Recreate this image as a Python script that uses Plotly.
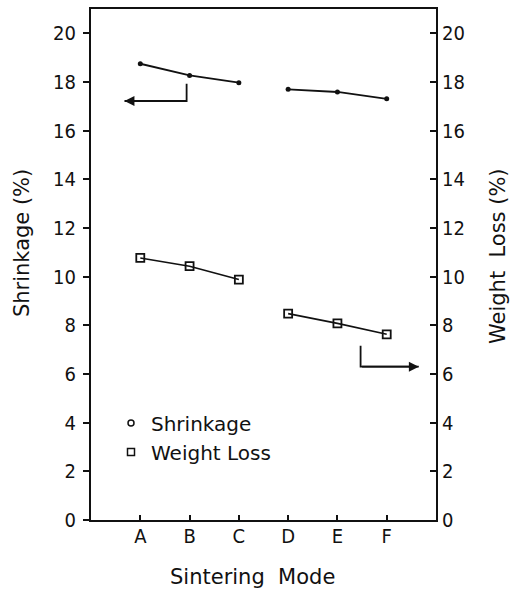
import plotly.graph_objects as go

modes = ["A", "B", "C", "D", "E", "F"]
mode_pos = [1, 2, 3, 4, 5, 6]
shrinkage = [18.75, 18.27, 17.97, 17.70, 17.59, 17.31]
weight_loss = [10.77, 10.43, 9.88, 8.48, 8.08, 7.63]
y_ticks = [0, 2, 4, 6, 8, 10, 12, 14, 16, 18, 20]

# indicator "L" arrows (x, y) pointing to the relevant axis
left_arrow_x = [1.94, 1.94, 0.68]
left_arrow_y = [17.93, 17.22, 17.22]
right_arrow_x = [5.47, 5.47, 6.65]
right_arrow_y = [7.16, 6.30, 6.30]

TEXT_FONT = "DejaVu Sans, Noto Sans, sans-serif"
TICK_FONT = "DejaVu Sans Condensed, Liberation Sans Narrow, Arial Narrow, sans-serif"
BLACK = "#111111"

W, H = 515, 596
ML, MR, MT, MB = 91, 79, 7, 76

fig = go.Figure()

for grp in (slice(0, 3), slice(3, 6)):
    fig.add_trace(go.Scatter(
        x=mode_pos[grp], y=shrinkage[grp], mode="lines+markers",
        line=dict(color=BLACK, width=1.8),
        marker=dict(symbol="circle", size=5, color=BLACK),
        showlegend=False, yaxis="y"))
    fig.add_trace(go.Scatter(
        x=mode_pos[grp], y=weight_loss[grp], mode="lines+markers",
        line=dict(color=BLACK, width=1.6),
        marker=dict(symbol="square-open", size=8, color=BLACK, line=dict(width=1.8)),
        showlegend=False, yaxis="y2"))

# legend entries (markers only)
fig.add_trace(go.Scatter(x=[None], y=[None], mode="markers", name="Shrinkage",
                         marker=dict(symbol="circle-open", size=6, color=BLACK, line=dict(width=1.5))))
fig.add_trace(go.Scatter(x=[None], y=[None], mode="markers", name="Weight Loss",
                         marker=dict(symbol="square-open", size=7, color=BLACK, line=dict(width=1.5))))

# arrow polylines
fig.add_trace(go.Scatter(x=left_arrow_x, y=left_arrow_y, mode="lines",
                         line=dict(color=BLACK, width=1.8), showlegend=False, hoverinfo="skip"))
fig.add_trace(go.Scatter(x=right_arrow_x, y=right_arrow_y, mode="lines",
                         line=dict(color=BLACK, width=1.8), showlegend=False, hoverinfo="skip"))

for xs, ys in ((left_arrow_x, left_arrow_y), (right_arrow_x, right_arrow_y)):
    fig.add_annotation(x=xs[2], y=ys[2], ax=xs[1], ay=ys[1], xref="x", yref="y",
                       axref="x", ayref="y", showarrow=True, arrowhead=2,
                       arrowsize=1.1, arrowwidth=1.8, arrowcolor=BLACK, text="")

tickfont = dict(family=TICK_FONT, size=20, color=BLACK)
axis_common = dict(range=[0, 21], tickvals=y_ticks, showgrid=False, zeroline=False,
                   showline=True, linecolor=BLACK, linewidth=2, ticklen=6,
                   tickwidth=1.5, tickcolor=BLACK, tickfont=tickfont)

pw, ph = W - ML - MR, H - MT - MB


def px(x):
    return (x - ML) / pw


def py(y):
    return (H - MB - y) / ph


fig.update_layout(
    width=W, height=H,
    margin=dict(l=ML, r=MR, t=MT, b=MB),
    paper_bgcolor="white", plot_bgcolor="white",
    font=dict(family=TEXT_FONT, color=BLACK, size=20),
    xaxis=dict(range=[0, 7], tickvals=mode_pos, ticktext=modes, ticks="inside",
               ticklen=5, tickwidth=1.5, tickcolor=BLACK, showgrid=False, zeroline=False,
               showline=True, mirror=True, linecolor=BLACK, linewidth=2,
               tickfont=tickfont, ticklabelstandoff=-3),
    yaxis=dict(side="left", ticks="outside", ticklabelstandoff=3, **axis_common),
    yaxis2=dict(side="right", overlaying="y", ticks="inside", ticklabelstandoff=0, **axis_common),
    legend=dict(x=px(111), y=py(403), xanchor="left",
                yanchor="top", bgcolor="rgba(0,0,0,0)",
                font=dict(family=TEXT_FONT, size=20, color=BLACK), itemsizing="trace",
                tracegroupgap=0, itemwidth=30),
    showlegend=True,
)

fig.add_annotation(text="Shrinkage (%)", textangle=-90, x=px(22), y=py(242),
                   xref="paper", yref="paper", showarrow=False, xanchor="center",
                   yanchor="middle", font=dict(family=TEXT_FONT, size=21))
fig.add_annotation(text="Weight  Loss (%)", textangle=-90, x=px(498), y=py(255),
                   xref="paper", yref="paper", showarrow=False, xanchor="center",
                   yanchor="middle", font=dict(family=TEXT_FONT, size=21))
fig.add_annotation(text="Sintering  Mode", x=px(252), y=py(577),
                   xref="paper", yref="paper", showarrow=False, xanchor="center",
                   yanchor="middle", font=dict(family=TEXT_FONT, size=21))

fig.write_html("out.html", config={"displayModeBar": False},
               post_script="document.body.style.margin='0px';")
